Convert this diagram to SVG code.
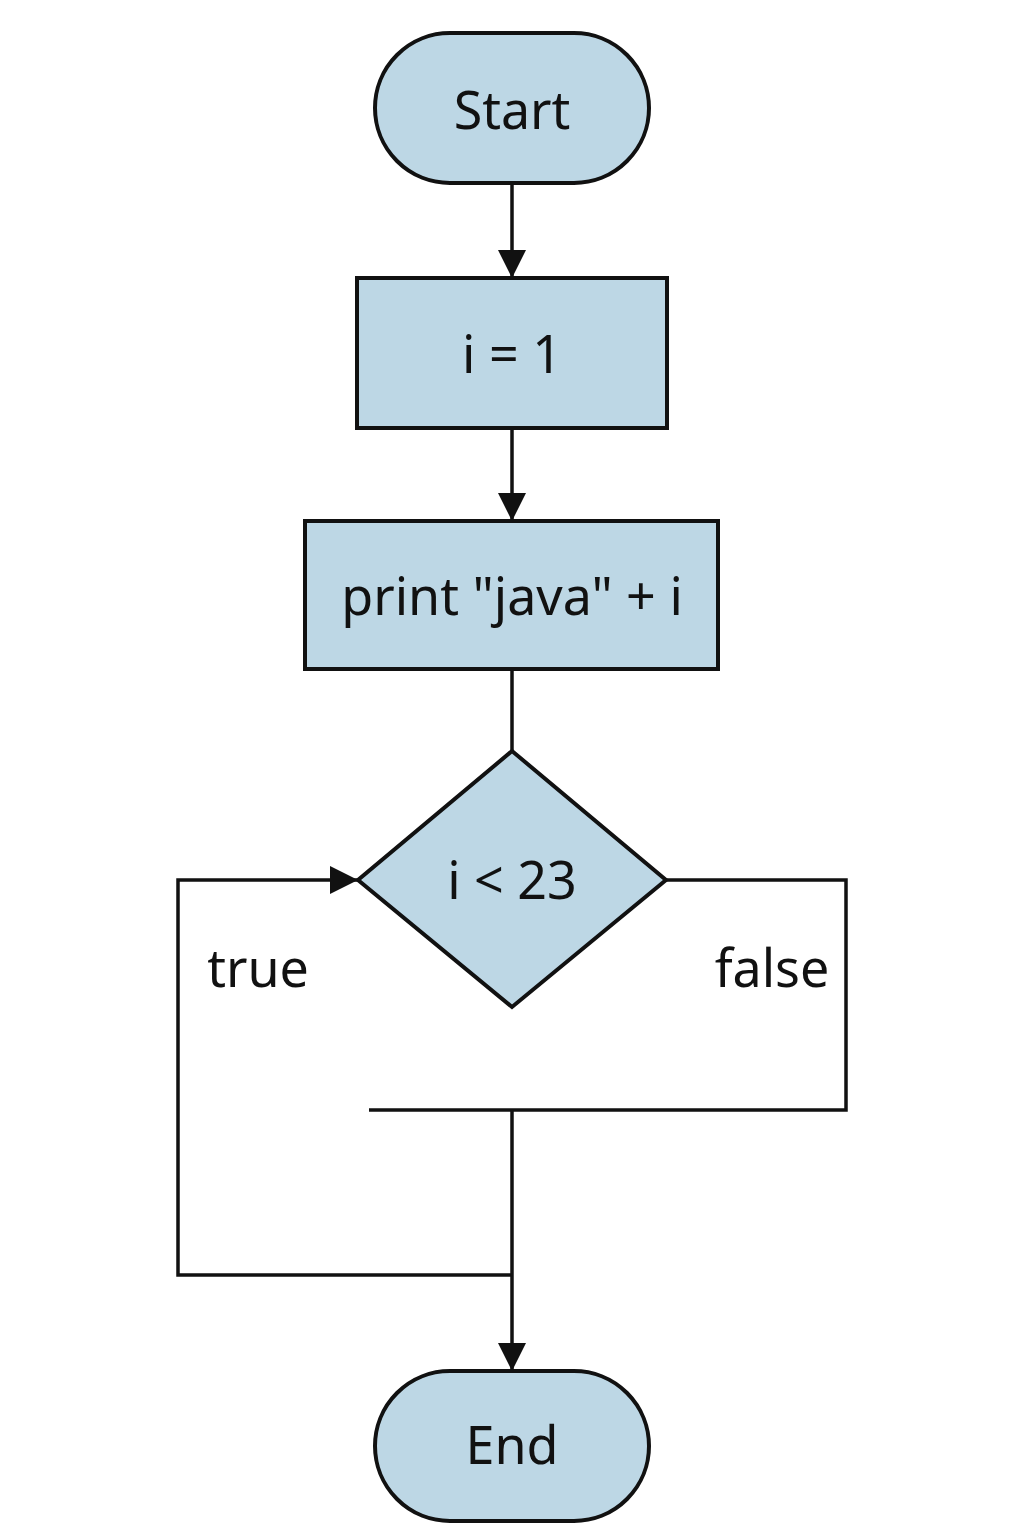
<svg xmlns="http://www.w3.org/2000/svg" width="1024" height="1536" viewBox="0 0 1024 1536">
<defs>
<style>
.n{fill:#BDD7E5;stroke:#111;stroke-width:4}
.t{font-family:"Noto Sans","Open Sans",sans-serif;font-size:52px;fill:#111;text-anchor:middle}
.c{fill:none;stroke:#111;stroke-width:3.5}
</style>
<marker id="a" viewBox="0 0 28 28" markerWidth="28" markerHeight="28" refX="28" refY="14" orient="auto" markerUnits="userSpaceOnUse">
<path d="M0,0 L28,14 L0,28 Z" fill="#111"/>
</marker>
</defs>
<rect width="1024" height="1536" fill="#fff"/>
<g id="connectors">
<path class="c" d="M512,183 V278" marker-end="url(#a)"/>
<path class="c" d="M512,428 V521" marker-end="url(#a)"/>
<path class="c" d="M512,669 V751"/>
<path class="c" d="M512,1275 H178 V880 H358" marker-end="url(#a)"/>
<path class="c" d="M666,880 H846 V1110 H369"/>
<path class="c" d="M512,1110 V1371" marker-end="url(#a)"/>
</g>
<g id="start">
<rect class="n" x="375" y="33" width="274" height="150" rx="75"/>
<text class="t" x="512" y="129">Start</text>
</g>
<g id="init">
<rect class="n" x="357" y="278" width="310" height="150"/>
<text class="t" x="512" y="373">i = 1</text>
</g>
<g id="print">
<rect class="n" x="305" y="521" width="413" height="148"/>
<text class="t" x="512" y="615">print "java" + i</text>
</g>
<g id="cond">
<polygon class="n" points="512,751 666,880 512,1007 358,880"/>
<text class="t" x="512" y="899">i &lt; 23</text>
</g>
<g id="end">
<rect class="n" x="375" y="1371" width="274" height="150" rx="75"/>
<text class="t" x="512" y="1464">End</text>
</g>
<g id="labels">
<text class="t" x="258" y="987">true</text>
<text class="t" x="772" y="987">false</text>
</g>
</svg>
